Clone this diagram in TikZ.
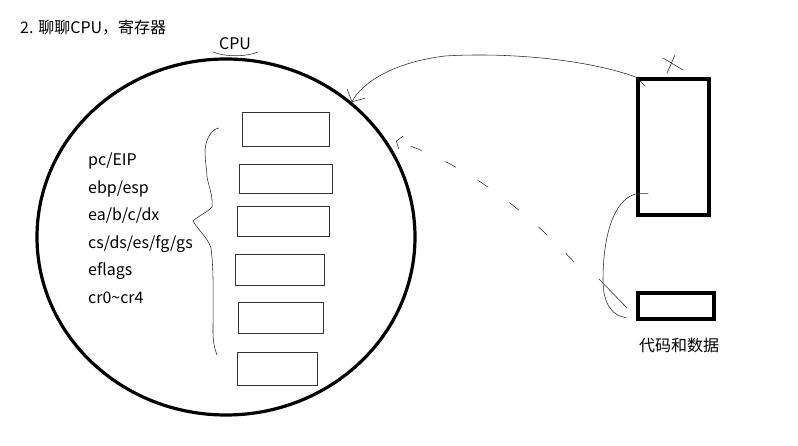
\documentclass[tikz,border=0pt]{standalone}
\usepackage{fontspec}
\setmainfont{Noto Sans CJK SC}
\usepackage{tikz}
\usetikzlibrary{shapes.geometric, arrows.meta, positioning, calc}

\begin{document}
\begin{tikzpicture}[
    x=1pt, y=-1pt,
    font=\fontsize{16}{19}\selectfont,
    cpubody/.style={ellipse, draw=black, line width=3.2pt, minimum width=378pt, minimum height=356pt, inner sep=0pt},
    regbox/.style={rectangle, draw=black!80, line width=0.9pt, inner sep=0pt},
    membox/.style={rectangle, draw=black, line width=3.4pt, inner sep=0pt},
    reglabel/.style={anchor=west, inner sep=0pt},
    pen/.style={draw=black!85, line width=0.55pt},
    flow/.style={pen, -{Straight Barb[length=9pt, width=20pt]}}
]
\useasboundingbox (0,0) rectangle (798,446);

% title
\node[anchor=west, inner sep=0pt] (title) at (20,28) {2. 聊聊CPU，寄存器};

% CPU
\node[cpubody] (cpu) at (226,237) {};
\node[inner sep=0pt] (cpulabel) at (235,44) {CPU};
\draw[pen] (213,52) .. controls (225,57) and (246,57) .. (258,52);

% register names
\node[reglabel] (rpc) at (88,161) {pc/EIP};
\node[reglabel] (rbp) at (88,189) {ebp/esp};
\node[reglabel] (rgen) at (88,216) {ea/b/c/dx};
\node[reglabel] (rseg) at (88,244) {cs/ds/es/fg/gs};
\node[reglabel] (rflg) at (88,271) {eflags};
\node[reglabel] (rcr) at (88,298) {cr0\textasciitilde cr4};

% brace
\draw[pen] (219,128) .. controls (212,129) and (206,138) .. (205,150)
    .. controls (205,162) and (207,170) .. (207,177)
    .. controls (209,188) and (213,195) .. (212,207)
    .. controls (208,212) and (198,216) .. (193,221)
    .. controls (198,230) and (208,238) .. (211,248)
    .. controls (214,270) and (213,300) .. (213,333)
    .. controls (213,342) and (215,350) .. (217,355);

% register boxes
\node[regbox, minimum width=87pt, minimum height=34pt] (b1) at (285.5,129) {};
\node[regbox, minimum width=93pt, minimum height=29pt] (b2) at (285.5,178.5) {};
\node[regbox, minimum width=92pt, minimum height=30pt] (b3) at (283,221) {};
\node[regbox, minimum width=89pt, minimum height=31pt] (b4) at (279.5,269.5) {};
\node[regbox, minimum width=85pt, minimum height=31pt] (b5) at (280.5,317.5) {};
\node[regbox, minimum width=80pt, minimum height=33pt] (b6) at (277,368.5) {};

% memory
\node[membox, minimum width=71pt, minimum height=136pt] (mem) at (673.5,147) {};
\node[membox, minimum width=76pt, minimum height=26pt] (data) at (676,306) {};
\node[inner sep=0pt] (datalabel) at (679,345) {代码和数据};

% cross above memory
\draw[pen] (663,58) -- (683,70);
\draw[pen] (675,55) -- (667,73);

% memory to cpu
\draw[flow] ([shift={(9,9)}]mem.north west) -- (mem.north west)
    .. controls (590,60) and (510,52) .. (445,56)
    .. controls (395,62) and (362,82) .. (cpu.47);

% memory to data
\coordinate (mtap) at ($(mem.south west)+(0,-23)$);
\coordinate (dend) at ($(data.south west)+(-10,-3)$);
\draw[pen] ([xshift=12pt]mtap) -- (mtap)
    .. controls (612,200) and (603,240) .. (603,280)
    .. controls (603,305) and (613,316) .. (dend);
\draw[pen] (599,279) -- (627,308);

% dashed hint
\coordinate (hstart) at (574,262);
\coordinate (hend) at (396,141);
\draw[pen, dash pattern=on 12pt off 26pt, -{Straight Barb[length=5pt, width=14pt]}] (hstart)
    .. controls (530,215) and (470,165) .. (hend);

\end{tikzpicture}
\end{document}
